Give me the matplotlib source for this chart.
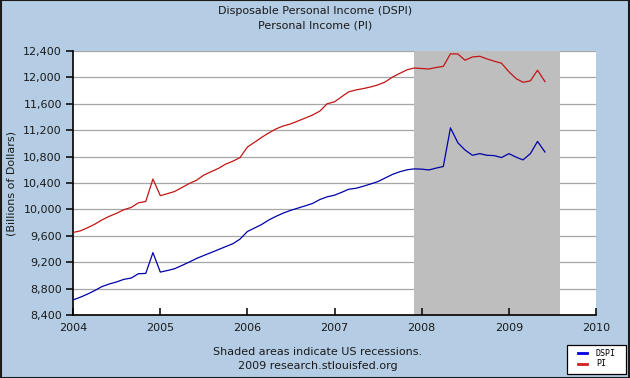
import matplotlib
matplotlib.use("Agg")
import matplotlib.pyplot as plt
import matplotlib.dates as mdates
import matplotlib.ticker as mticker
from matplotlib.patches import Rectangle
import pandas as pd

# ---- data (monthly, Jan 2004 - May 2009, billions of dollars) ----
start_month = "2004-01-01"
pi_values = [
    9650, 9675, 9720, 9775, 9840, 9895, 9940, 9995, 10030, 10100, 10120, 10460,
    10208, 10240, 10270, 10330, 10390, 10440, 10517, 10570, 10620, 10685, 10730, 10785,
    10945, 11020, 11090, 11160, 11220, 11265, 11295, 11340, 11385, 11430, 11490, 11600,
    11630, 11710, 11780, 11810, 11830, 11855, 11885, 11930, 12005, 12060, 12115, 12142,
    12135, 12127, 12150, 12167, 12357, 12355, 12260, 12310, 12320, 12280, 12245, 12215,
    12085, 11980, 11926, 11948, 12109, 11936,
]
dspi_values = [
    8628, 8670, 8715, 8770, 8830, 8870, 8900, 8940, 8960, 9025, 9030, 9345,
    9050, 9075, 9100, 9150, 9200, 9255, 9300, 9345, 9390, 9435, 9480, 9550,
    9665, 9720, 9770, 9840, 9895, 9945, 9985, 10020, 10055, 10090, 10150, 10190,
    10215, 10260, 10305, 10320, 10350, 10385, 10420, 10475, 10530, 10570, 10600, 10614,
    10610, 10598, 10625, 10650, 11235, 11010, 10900, 10820, 10845, 10820, 10815, 10785,
    10845, 10790, 10750, 10845, 11030, 10870,
]
series_names = ["DSPI", "PI"]
recession_start = "2007-12-01"
recession_end = "2009-08-05"
y_ticks = list(range(8400, 12401, 400))
x_years = list(range(2004, 2011))
title_lines = ["Disposable Personal Income (DSPI)", "Personal Income (PI)"]
y_label = "(Billions of Dollars)"
footer_lines = ["Shaded areas indicate US recessions.", "2009 research.stlouisfed.org"]

dates = pd.date_range(start_month, periods=len(pi_values), freq="MS")

BG = "#B4CDE4"
BLUE = "#0000A8"
RED = "#C41414"
FS = 8
TXT = "#1a1a1a"

fig = plt.figure(figsize=(6.3, 3.78), dpi=100, facecolor=BG)
ax = fig.add_axes([73 / 630, 1 - 315 / 378, (596 - 73) / 630, (315 - 51) / 378])
ax.set_facecolor("white")

ax.axvspan(pd.Timestamp(recession_start), pd.Timestamp(recession_end),
           color="#BEBEBE", lw=0, zorder=1)
for yv in y_ticks:
    ax.axhline(yv, color="#A6A6A6", lw=0.9, zorder=0.5)

ax.plot(dates, dspi_values, color=BLUE, lw=0.9, zorder=3)
ax.plot(dates, pi_values, color=RED, lw=0.9, zorder=3)

ax.set_xlim(pd.Timestamp(f"{x_years[0]}-01-01"), pd.Timestamp(f"{x_years[-1]}-01-01"))
ax.set_ylim(y_ticks[0], y_ticks[-1])
ax.set_yticks(y_ticks)
ax.yaxis.set_major_formatter(mticker.FuncFormatter(lambda v, p: f"{int(v):,}"))
ax.set_xticks([pd.Timestamp(f"{y}-01-01") for y in x_years])
ax.xaxis.set_major_formatter(mdates.DateFormatter("%Y"))

for s in ["top", "right"]:
    ax.spines[s].set_visible(False)
for s in ["left", "bottom"]:
    ax.spines[s].set_color("black")
    ax.spines[s].set_linewidth(1.2)
ax.tick_params(axis="y", direction="out", length=5, width=1.1, labelsize=FS, pad=3,
               labelcolor=TXT)
ax.tick_params(axis="x", direction="in", length=5, width=1.1, labelsize=FS, pad=6,
               labelcolor=TXT)

ax.set_ylabel(y_label, fontsize=FS, color=TXT)
ax.yaxis.set_label_coords(-0.108, 0.5)

fig.text(0.5, 1 - 11.5 / 378, title_lines[0], ha="center", va="center", fontsize=FS, color=TXT)
fig.text(0.5, 1 - 25.5 / 378, title_lines[1], ha="center", va="center", fontsize=FS, color=TXT)
fig.text(318 / 630, 1 - 352 / 378, footer_lines[0], ha="center", va="center", fontsize=FS, color=TXT)
fig.text(318 / 630, 1 - 366 / 378, footer_lines[1], ha="center", va="center", fontsize=FS, color=TXT)

# legend box
lx0, ly0, lx1, ly1 = 567, 345, 626, 374
fig.patches.append(Rectangle((lx0 / 630, 1 - ly1 / 378), (lx1 - lx0) / 630, (ly1 - ly0) / 378,
                             transform=fig.transFigure, facecolor="white",
                             edgecolor="black", lw=0.9, zorder=5))
for i, (name, col) in enumerate(zip(series_names, ["#0000E0", "#D02020"])):
    yy = 1 - (353 + i * 11) / 378
    fig.lines.append(plt.Line2D([578 / 630, 587 / 630], [yy, yy], transform=fig.transFigure,
                                color=col, lw=2, zorder=6))
    fig.text(596 / 630, yy, name, ha="left", va="center", fontsize=6,
             family="DejaVu Sans Mono", zorder=7)

# outer border
fig.patches.append(Rectangle((0.0008, 0.0013), 0.9984, 0.9974, transform=fig.transFigure,
                             fill=False, edgecolor="#1a1a1a", lw=1.5, zorder=10))

fig.savefig("out.png", dpi=100, facecolor=BG)
